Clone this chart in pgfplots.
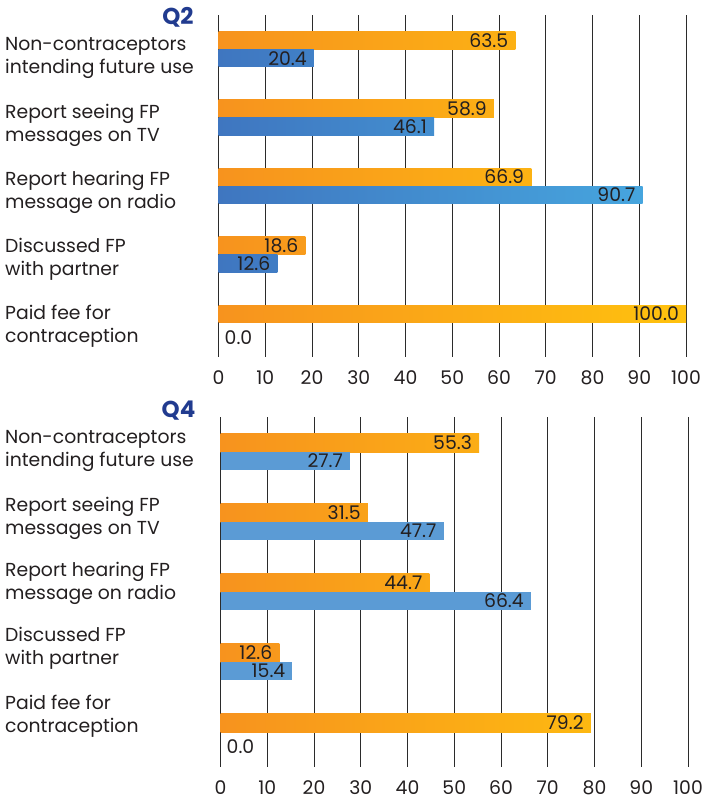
\documentclass[border=0pt]{standalone}
\usepackage{fontspec}
\setmainfont{Poppins}
\usepackage{xcolor}
\usepackage{pgfplots}
\pgfplotsset{compat=1.18}

\definecolor{OrA}{HTML}{F7931E}
\definecolor{OrB}{HTML}{FFC20E}
\definecolor{BlA}{HTML}{3F76C0}
\definecolor{BlB}{HTML}{47AAE1}
\definecolor{BlQ}{HTML}{5B9BD5}
\definecolor{TxtC}{HTML}{231F20}
\definecolor{QBlue}{HTML}{213B8F}
\definecolor{GridC}{HTML}{2B2B2B}

\newcommand{\lblfont}{\fontsize{18.8}{23}\selectfont}

\pgfplotsset{
  panel/.style={
    scale only axis, anchor=north west,
    width=467.5pt,
    xmin=0, xmax=100, ymin=-0.5, ymax=4.5, y dir=reverse,
    xtick={0,10,...,100}, ytick=\empty,
    xmajorgrids, major grid style={draw=GridC, line width=0.9pt},
    major tick length=0pt,
    axis line style={draw=none},
    xticklabel style={anchor=center, yshift=-21pt, text=TxtC},
    font=\lblfont,
    clip=false,
    /pgf/number format/assume math mode=true,
  },
  base/.style={xbar, bar width=0.26, draw=none, point meta=x,
    nodes near coords={\pgfmathprintnumber[fixed,fixed zerofill,precision=1,assume math mode=true]{\pgfplotspointmeta}},
    every node near coord/.append style={anchor=east, xshift=-7pt, text=TxtC, font=\lblfont, inner sep=0pt}},
  orb/.style={base, bar shift=-0.13, left color=OrA, right color=OrB!#1!OrA,
    every node near coord/.append style={yshift=9pt}},
  blb/.style={base, bar shift=0.13, left color=BlA, right color=BlB!#1!BlA,
    every node near coord/.append style={yshift=-9pt}},
  blq/.style={base, bar shift=0.13, fill=BlQ,
    every node near coord/.append style={yshift=-9pt}},
  zer/.style={base, bar shift=0.13, fill=none,
    every node near coord/.append style={anchor=west, xshift=13pt, yshift=-15pt}},
}

\begin{document}
\begin{tikzpicture}
\path[use as bounding box] (0,0) rectangle (703pt,-802pt);

% Q2
\node[font=\bfseries\fontsize{23}{23}\selectfont, text=QBlue] at (178pt,-17pt) {Q2};
\begin{axis}[panel, at={(218.5pt,-15pt)}, height=342pt]
  \addplot[orb=63.5] coordinates {(63.5,0)};
  \addplot[orb=58.9] coordinates {(58.9,1)};
  \addplot[orb=66.9] coordinates {(66.9,2)};
  \addplot[orb=18.6] coordinates {(18.6,3)};
  \addplot[orb=100]  coordinates {(100.0,4)};
  \addplot[blb=20.4] coordinates {(20.4,0)};
  \addplot[blb=46.1] coordinates {(46.1,1)};
  \addplot[blb=90.7] coordinates {(90.7,2)};
  \addplot[blb=12.6] coordinates {(12.6,3)};
  \addplot[zer]      coordinates {(0.0,4)};
\end{axis}

% Q4
\node[font=\bfseries\fontsize{23}{23}\selectfont, text=QBlue] at (178.5pt,-411pt) {Q4};
\begin{axis}[panel, at={(220.5pt,-417pt)}, height=350pt]
  \addplot[orb=55.3] coordinates {(55.3,0)};
  \addplot[orb=31.5] coordinates {(31.5,1)};
  \addplot[orb=44.7] coordinates {(44.7,2)};
  \addplot[orb=12.6] coordinates {(12.6,3)};
  \addplot[orb=79.2] coordinates {(79.2,4)};
  \addplot[blq]      coordinates {(27.7,0)};
  \addplot[blq]      coordinates {(47.7,1)};
  \addplot[blq]      coordinates {(66.4,2)};
  \addplot[blq]      coordinates {(15.4,3)};
  \addplot[zer]      coordinates {(0.0,4)};
\end{axis}

% category labels
\begin{scope}[every node/.style={anchor=west, align=left, font=\lblfont, text=TxtC, inner sep=0pt}]
  \node at (5pt,-58pt)  {Non-contraceptors\\intending future use};
  \node at (5pt,-125pt) {Report seeing FP\\messages on TV};
  \node at (5pt,-192pt) {Report hearing FP\\message on radio};
  \node at (5pt,-259pt) {Discussed FP\\with partner};
  \node at (5pt,-326pt) {Paid fee for\\contraception};
  \node at (5pt,-451pt) {Non-contraceptors\\intending future use};
  \node at (5pt,-518pt) {Report seeing FP\\messages on TV};
  \node at (5pt,-583pt) {Report hearing FP\\message on radio};
  \node at (5pt,-648pt) {Discussed FP\\with partner};
  \node at (5pt,-716pt) {Paid fee for\\contraception};
\end{scope}
\end{tikzpicture}
\end{document}
